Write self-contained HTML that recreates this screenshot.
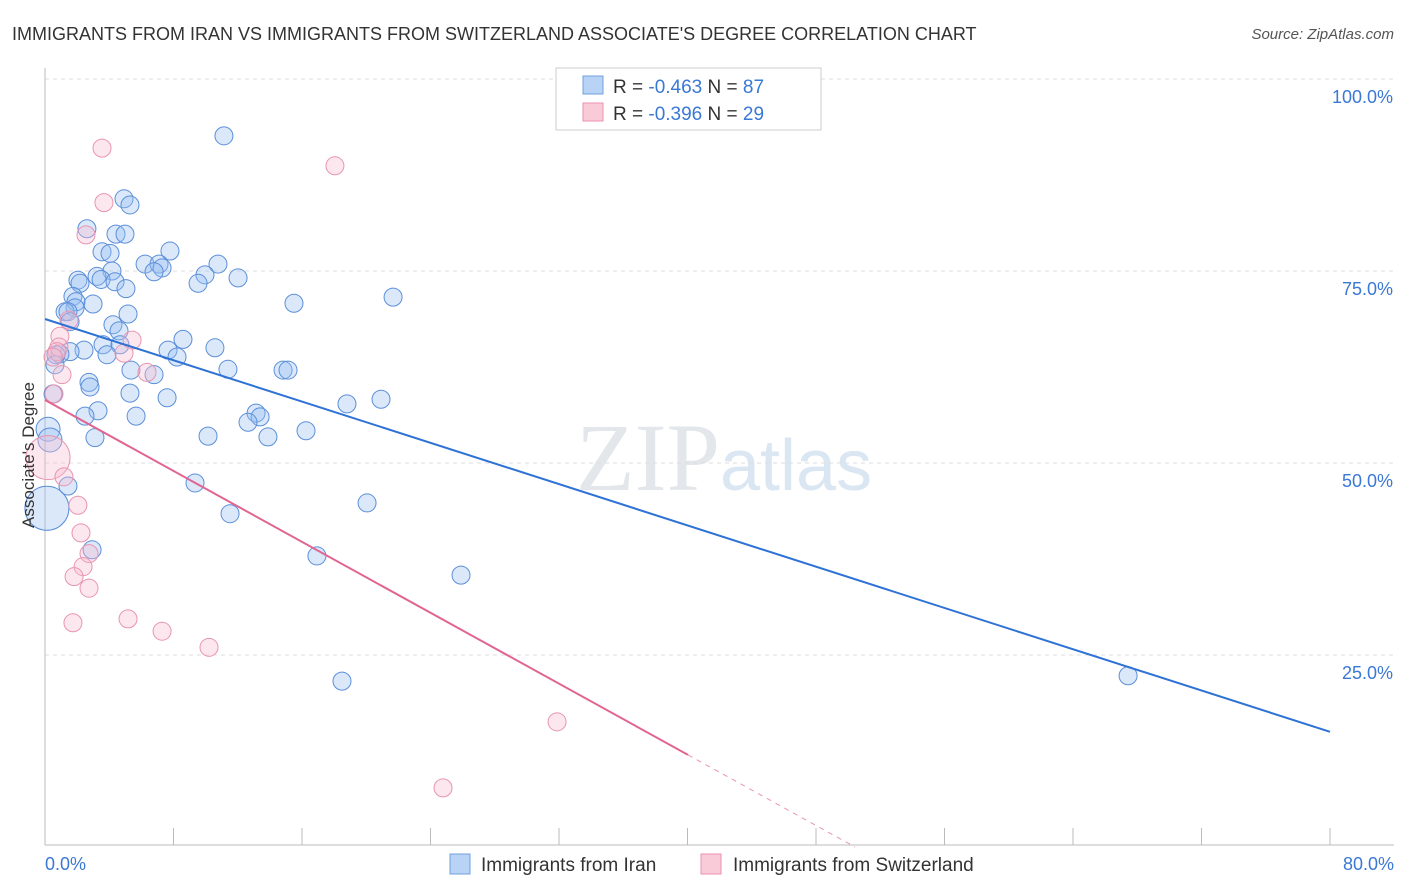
<!DOCTYPE html>
<html><head><meta charset="utf-8"><style>
body{margin:0;background:#fff;font-family:"Liberation Sans",sans-serif}
svg{display:block}
</style></head><body>
<svg width="1406" height="892" xmlns="http://www.w3.org/2000/svg">
<text x="12" y="40" font-size="18" fill="#333">IMMIGRANTS FROM IRAN VS IMMIGRANTS FROM SWITZERLAND ASSOCIATE'S DEGREE CORRELATION CHART</text>
<text x="1394" y="39" font-size="15" fill="#555" text-anchor="end" font-style="italic">Source: ZipAtlas.com</text>
<text x="720" y="490" font-size="96" fill="#e3e6ea" text-anchor="end" font-family="Liberation Serif,serif">ZIP</text>
<text x="720" y="490" font-size="72" fill="#dbe6f3">atlas</text>
<g id="grid"></g>
<g id="axes"></g>
<g id="pts"></g>
<g id="lines"></g>
<text transform="translate(34,455) rotate(-90)" font-size="17" fill="#333" text-anchor="middle">Associate's Degree</text>
<g>
<rect x="556" y="68" width="265" height="62" fill="#fff" stroke="#ccc"/>
<rect x="583" y="76" width="20" height="18" fill="#b8d3f5" stroke="#6fa0e0"/>
<text x="613" y="93" font-size="19" fill="#333">R = <tspan fill="#3a78d6">-0.463</tspan>   N = <tspan fill="#3a78d6">87</tspan></text>
<rect x="583" y="103" width="20" height="18" fill="#f9cad8" stroke="#ea92ad"/>
<text x="613" y="120" font-size="19" fill="#333">R = <tspan fill="#3a78d6">-0.396</tspan>   N = <tspan fill="#3a78d6">29</tspan></text>
</g>
<g>
<rect x="450" y="854" width="20" height="20" fill="#b8d3f5" stroke="#6fa0e0"/>
<text x="481" y="871" font-size="19" fill="#333">Immigrants from Iran</text>
<rect x="701" y="854" width="20" height="20" fill="#f9cad8" stroke="#ea92ad"/>
<text x="733" y="871" font-size="19" fill="#333">Immigrants from Switzerland</text>
</g>
</svg>
<script>
const yTicks=[100,75,50,25];
const yTickLabels=["100.0%","75.0%","50.0%","25.0%"];
const xTickLabels=["0.0%","80.0%"];
const iranX=[11.14,4.92,5.29,2.61,4.42,4.98,7.78,3.55,4.05,6.23,7.10,10.77,7.29,6.79,4.17,3.24,9.96,12.02,3.49,2.05,2.18,4.36,9.53,5.04,1.74,21.67,1.93,2.99,15.50,1.87,1.25,1.43,5.17,1.56,4.23,4.61,8.59,3.61,4.67,10.58,7.66,2.43,1.56,0.93,3.86,0.68,8.22,0.62,11.39,14.82,15.13,5.35,6.79,2.74,2.80,5.29,0.50,7.60,20.92,18.80,3.30,2.49,5.67,13.14,13.39,12.64,0.19,16.25,10.15,13.88,3.11,0.31,9.34,1.43,20.05,11.52,0.12,2.93,16.93,25.90,18.49,67.43];
const iranY=[92.6,84.4,83.6,80.5,79.8,79.8,77.6,77.5,77.3,75.9,75.9,75.9,75.4,74.9,75.0,74.3,74.5,74.1,73.9,73.8,73.4,73.6,73.4,72.7,71.7,71.6,71.0,70.7,70.8,70.2,69.7,69.7,69.4,68.4,68.0,67.2,66.1,65.4,65.4,65.0,64.7,64.7,64.5,64.2,64.1,64.1,63.8,62.8,62.2,62.1,62.1,62.1,61.5,60.5,59.9,59.1,59.0,58.5,58.3,57.7,56.8,56.1,56.1,56.5,56.0,55.3,54.4,54.2,53.5,53.4,53.3,53.0,47.4,47.0,44.8,43.4,44.1,38.7,37.9,35.4,21.6,22.3];
const iranR=[9,9,9,9,9,9,9,9,9,9,9,9,9,9,9,9,9,9,9,9,9,9,9,9,9,9,9,9,9,9,9,9,9,9,9,9,9,9,9,9,9,9,9,9,9,9,9,9,9,9,9,9,9,9,9,9,9,9,9,9,9,9,9,9,9,9,12,9,9,9,9,12,9,9,9,9,22,9,9,9,9,9];
const swissX=[3.55,18.05,3.67,2.55,1.49,0.93,5.42,0.87,0.75,0.50,4.92,6.35,1.06,0.56,0.19,1.18,2.05,2.24,2.74,2.37,1.81,2.74,1.74,5.17,7.29,10.21,31.88,24.78];
const swissY=[91.0,88.7,83.9,79.7,68.6,66.5,66.0,65.1,64.5,63.8,64.3,61.8,61.5,59.0,50.7,48.2,44.5,40.9,38.2,36.5,35.2,33.7,29.2,29.7,28.1,26.0,16.3,7.7];
const swissR=[9,9,9,9,9,9,9,9,9,9,9,9,9,9,22,9,9,9,9,9,9,9,9,9,9,9,9,9];
const iranLine=[68.75,15.0];
const swissLine=[58.2,12.0];
const swissSolidEnd=40.03;
const X=v=>45+v/80*1285, Y=v=>847-v/100*768;
const NS="http://www.w3.org/2000/svg";
function mk(p,t,a){const e=document.createElementNS(NS,t);for(const k in a)e.setAttribute(k,a[k]);p.appendChild(e);return e;}
const grid=document.getElementById('grid'),axes=document.getElementById('axes'),pts=document.getElementById('pts'),lines=document.getElementById('lines');
yTicks.forEach((t,i)=>{
 const l=mk(grid,'line',{x1:45,x2:1394,y1:Y(t),y2:Y(t),stroke:'#ddd','stroke-dasharray':'4,4'});
 
 
 const tx=mk(axes,'text',{x:1393,y:Y(t)+24,'font-size':18,fill:'#3a78d6','text-anchor':'end'});
 tx.textContent=yTickLabels[i];
 
 
});
mk(axes,'line',{x1:45,x2:45,y1:68,y2:845,stroke:'#bbb'});
mk(axes,'line',{x1:45,x2:1394,y1:845,y2:845,stroke:'#bbb'});
for(let i=0;i<=10;i++){const x=X(i*8);const t=mk(axes,'line',{x1:x,x2:x,y1:828,y2:845,stroke:'#bbb'});
 
 }
const xl0=mk(axes,'text',{x:45,y:870,'font-size':18,fill:'#3a78d6'});xl0.textContent=xTickLabels[0];


const xl1=mk(axes,'text',{x:1394,y:870,'font-size':18,fill:'#3a78d6','text-anchor':'end'});xl1.textContent=xTickLabels[1];


iranX.forEach((v,i)=>{const c=mk(pts,'circle',{cx:X(v),cy:Y(iranY[i]),r:iranR[i],fill:'rgba(150,190,240,0.35)',stroke:'#5b8fd9','stroke-width':1});
 
 });
swissX.forEach((v,i)=>{const c=mk(pts,'circle',{cx:X(v),cy:Y(swissY[i]),r:swissR[i],fill:'rgba(248,185,205,0.35)',stroke:'#e895b0','stroke-width':1});
 
 });
const bl=mk(lines,'line',{x1:X(0),y1:Y(iranLine[0]),x2:X(80),y2:Y(iranLine[1]),stroke:'#2f72d6','stroke-width':2});


const slope=(swissLine[1]-swissLine[0])/swissSolidEnd;
const pl=mk(lines,'line',{x1:X(0),y1:Y(swissLine[0]),x2:X(swissSolidEnd),y2:Y(swissLine[1]),stroke:'#e06592','stroke-width':2});


const xe=-swissLine[0]/slope;
const pd=mk(lines,'line',{x1:X(swissSolidEnd),y1:Y(swissLine[1]),x2:X(xe),y2:Y(0),stroke:'#e895b0','stroke-width':1,'stroke-dasharray':'5,5'});


</script>
</body></html>
